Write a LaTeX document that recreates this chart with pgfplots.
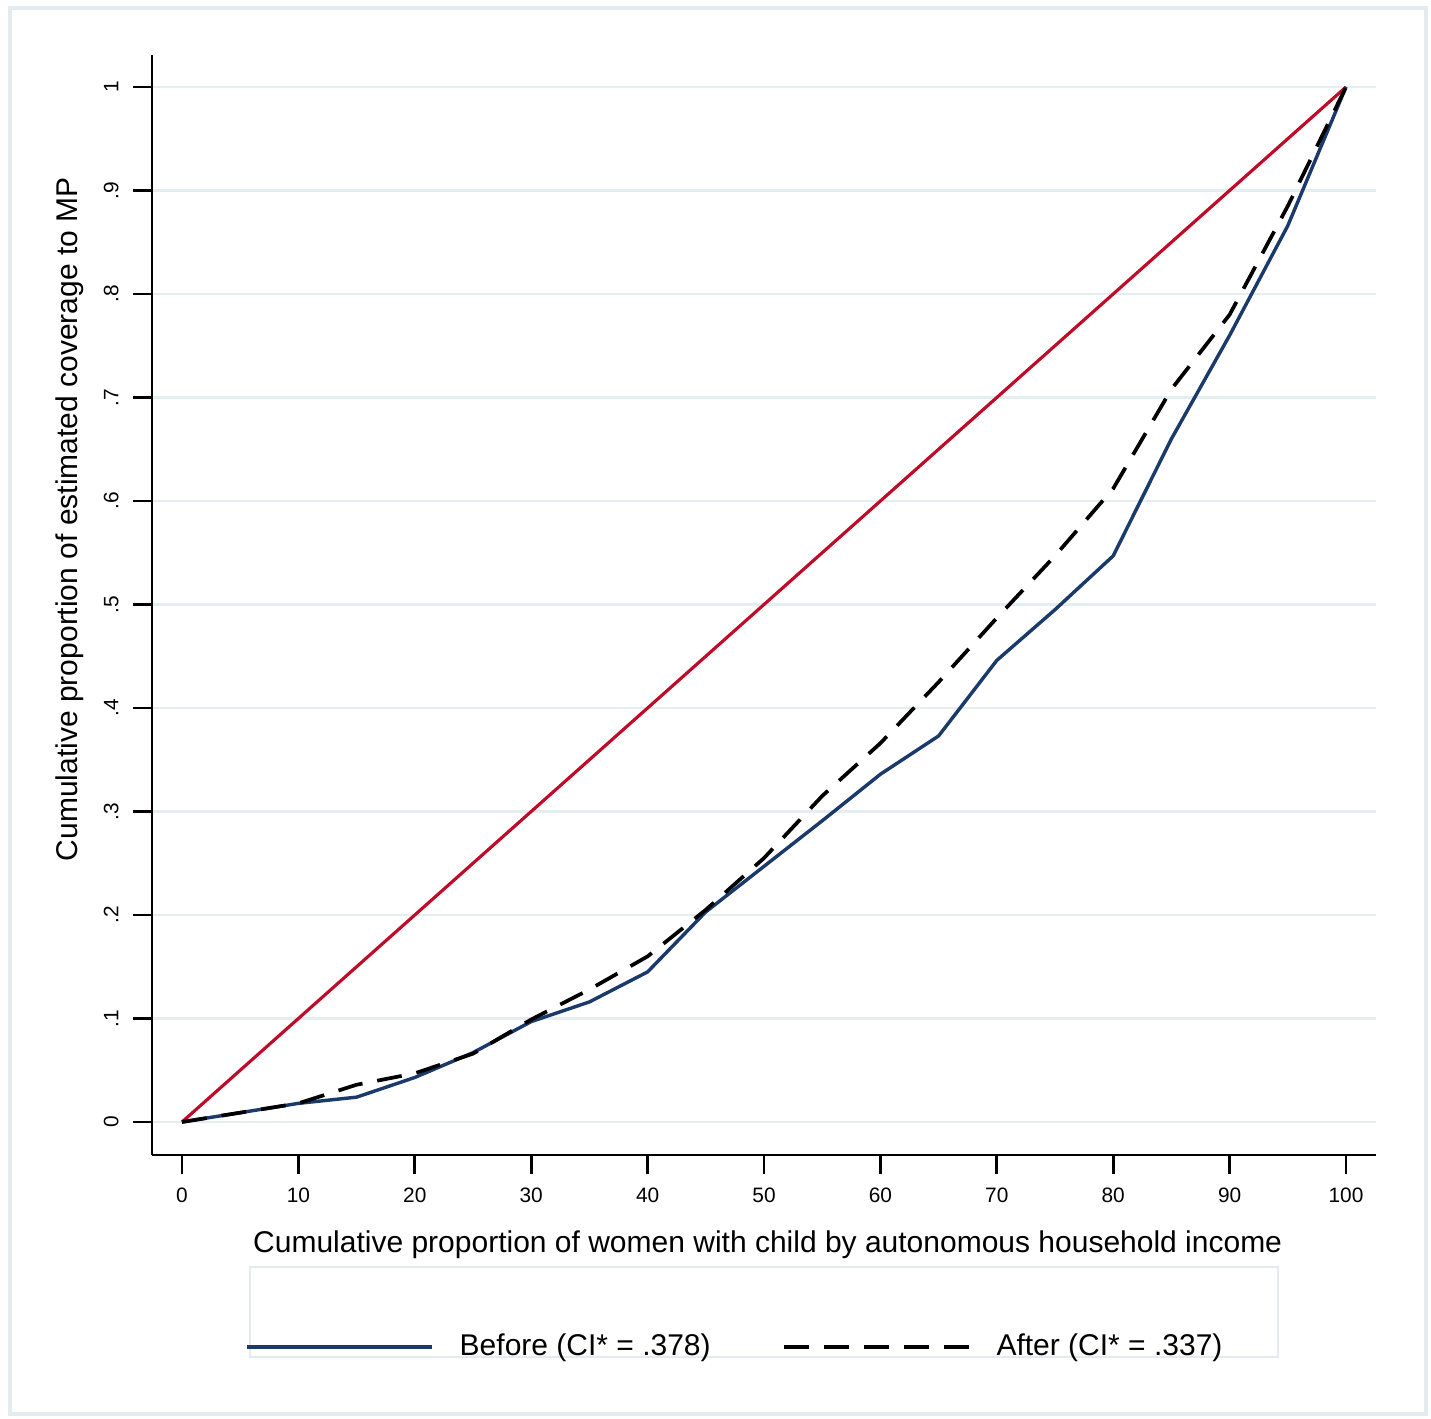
\documentclass[border=0pt]{standalone}
\usepackage{fontspec}
\setmainfont{Liberation Sans}
\usepackage{pgfplots}
\pgfplotsset{compat=1.18}

\definecolor{stnavy}{HTML}{1A3A6B}
\definecolor{stred}{HTML}{C10A28}
\definecolor{stgrid}{HTML}{E4EDEF}
\definecolor{stframe}{HTML}{E4EBEE}

\begin{document}
\begin{tikzpicture}
\useasboundingbox (-53.2pt,-92.05pt) rectangle (447.65pt,404.25pt);
% outer graph region frame and empty legend box
\draw[stframe, line width=1.4pt] (-49.7pt,-90.6pt) rectangle (445.9pt,401.4pt);
\draw[stframe, line width=0.6pt] (34.3pt,-39.2pt) rectangle (394.1pt,-70.7pt);
\begin{axis}[
    scale only axis,
    width=428.4pt, height=385pt,
    xmin=-2.577, xmax=102.577,
    ymin=-0.0319, ymax=1.0309,
    axis x line*=bottom, axis y line*=left,
    axis line style={line width=1pt, -},
    xtick={0,10,...,100},
    ytick={0,0.1,0.2,0.3,0.4,0.5,0.6,0.7,0.8,0.9,1},
    yticklabels={0,.1,.2,.3,.4,.5,.6,.7,.8,.9,1},
    tick align=outside,
    major tick length=6.5pt,
    tick style={black, line width=1pt},
    ymajorgrids,
    grid style={stgrid, line width=1pt},
    /pgf/number format/assume math mode=true,
    tick label style={font=\fontsize{7.3}{8}\selectfont},
    yticklabel style={rotate=90, anchor=base, yshift=5.25pt},
    xticklabel style={anchor=base, yshift=-10.15pt},
    label style={font=\fontsize{10.5}{12}\selectfont},
    xlabel={Cumulative proportion of women with child by autonomous household income},
    ylabel={Cumulative proportion of estimated coverage to MP},
    xlabel style={at={(axis description cs:0.503,-0.0882)}, anchor=base},
    ylabel style={at={(axis description cs:-0.0605,0.578)}, anchor=base},
    legend columns=2,
    legend style={draw=none, fill=none, inner sep=0pt,
        at={(axis description cs:0.076,-0.1745)}, anchor=west,
        font=\fontsize{10.5}{12}\selectfont,
        nodes={inner xsep=0pt, inner ysep=1pt},
        /tikz/every odd column/.append style={column sep=9pt},
        /tikz/every even column/.append style={column sep=25pt}},
    legend image code/.code={\draw[#1] (0pt,0pt) -- (64.75pt,0pt);},
]
% line of equality
\addplot[stred, line width=1.1pt, forget plot] coordinates {(0,0) (100,1)};
% before
\addplot[stnavy, line width=1.2pt] coordinates {
    (0,0) (5,0.009) (10,0.018) (15,0.024) (20,0.043) (25,0.067)
    (30,0.097) (35,0.116) (40,0.145) (45,0.203) (50,0.247)
    (55,0.291) (60,0.336) (65,0.373) (70,0.446) (75,0.495)
    (80,0.547) (85,0.660) (90,0.760) (95,0.866) (100,1)
};
% after
\addplot[black, line width=1.3pt, dash pattern=on 8.75pt off 5.25pt] coordinates {
    (0,0) (5,0.009) (10,0.018) (15,0.036) (20,0.047) (25,0.066)
    (30,0.099) (35,0.128) (40,0.160) (45,0.205) (50,0.255)
    (55,0.315) (60,0.366) (65,0.425) (70,0.487) (75,0.547)
    (80,0.612) (85,0.708) (90,0.780) (95,0.885) (100,1)
};
\legend{Before (CI* = .378), After (CI* = .337)}
\end{axis}
\end{tikzpicture}
\end{document}
